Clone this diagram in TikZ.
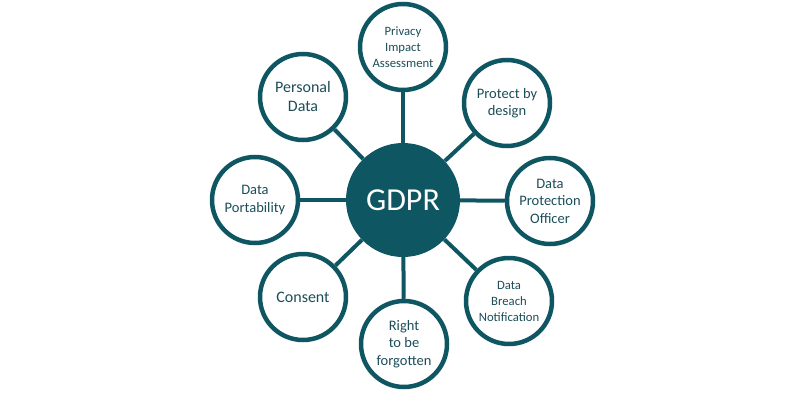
\documentclass[tikz,border=0pt]{standalone}
\usepackage{fontspec}
\setmainfont{Carlito}
\definecolor{gdprteal}{HTML}{0E5661}
\definecolor{ink}{HTML}{1C4E59}
\usetikzlibrary{backgrounds}
\tikzset{
  hub/.style={circle,fill=gdprteal,minimum size=114pt,inner sep=0pt,text=white,font=\fontsize{32}{36}\selectfont},
  topic/.style={circle,draw=gdprteal,line width=4.5pt,fill=white,minimum size=86pt,inner sep=0pt,align=center,text=ink},
  fsmall/.style={font=\fontsize{12.7}{16}\selectfont},
  fmid/.style={font=\fontsize{14.5}{17.5}\selectfont},
  fbig/.style={font=\fontsize{16}{19}\selectfont},
  link/.style={draw=gdprteal,line width=4pt},
}
\begin{document}
\begin{tikzpicture}[x=1pt,y=1pt]
\useasboundingbox (0,0) rectangle (800,400);
\node[hub] (gdpr) at (403,200) {GDPR};
% topics round the hub
\node[topic,fsmall] (pia) at (403,353) {Privacy\\Impact\\Assessment};
\node[topic,fmid] (pbd) at (507,297) {Protect by\\design};
\node[topic,fmid] (dpo) at (550,199) {Data\\Protection\\Officer};
\node[topic,fsmall] (dbn) at (509,99) {Data\\Breach\\Notification};
\node[topic,fmid] (rtbf) at (404,56) {Right\\to be\\forgotten};
\node[topic,fbig] (cons) at (303,103) {Consent};
\node[topic,fmid] (port) at (255,200) {Data\\Portability};
\node[topic,fbig] (pers) at (303,303) {Personal\\Data};
\begin{scope}[on background layer]
\foreach \n in {pia,pbd,dpo,dbn,rtbf,cons,port,pers} \draw[link] (gdpr) -- (\n);
\end{scope}
\end{tikzpicture}
\end{document}
